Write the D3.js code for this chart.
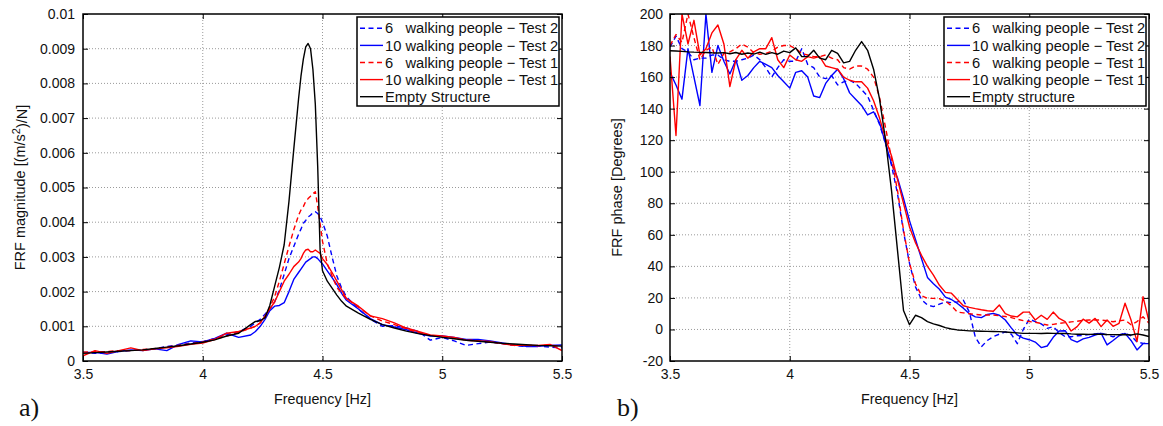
<!DOCTYPE html>
<html><head><meta charset="utf-8">
<script src="https://cdn.jsdelivr.net/npm/d3@7"></script>
<style>
body{margin:0;background:#fff}
svg{display:block}
text{font-family:"Liberation Sans",Arial,Helvetica,sans-serif;fill:#111}
</style>
</head><body>
<script>
// ---------------- DATA ----------------
const freqTicks = [3.5, 4, 4.5, 5, 5.5];
const freqTickLabels = ["3.5", "4", "4.5", "5", "5.5"];
const magTicks = [0, 0.001, 0.002, 0.003, 0.004, 0.005, 0.006, 0.007, 0.008, 0.009, 0.01];
const magTickLabels = ["0","0.001","0.002","0.003","0.004","0.005","0.006","0.007","0.008","0.009","0.01"];
const phaseTicks = [-20, 0, 20, 40, 60, 80, 100, 120, 140, 160, 180, 200];
const phaseTickLabels = ["-20","0","20","40","60","80","100","120","140","160","180","200"];

const legendMag = ["6   walking people \u2212 Test 2","10 walking people \u2212 Test 2","6   walking people \u2212 Test 1","10 walking people \u2212 Test 1","Empty Structure"];
const legendPhase = ["6   walking people \u2212 Test 2","10 walking people \u2212 Test 2","6   walking people \u2212 Test 1","10 walking people \u2212 Test 1","Empty structure"];

// Magnitude, values in units of 1e-3 (m/s^2)/N
const MAG_UNIT = 1e-3;
const freqMag = [3.5,3.55,3.6,3.65,3.7,3.75,3.8,3.85,3.9,3.95,4.0,4.05,4.1,4.15,4.2,
  4.22,4.24,4.26,4.28,4.3,4.32,4.34,4.36,4.38,4.4,
  4.41,4.42,4.43,4.44,4.45,4.46,4.47,4.48,4.49,4.5,
  4.52,4.54,4.56,4.58,4.6,
  4.65,4.7,4.75,4.8,4.85,4.9,4.95,5.0,5.05,5.1,5.15,5.2,5.25,5.3,5.35,5.4,5.45,5.5];
const mag6Test2 = [0.25,0.22,0.25,0.27,0.30,0.32,0.35,0.42,0.46,0.52,0.56,0.65,0.75,0.85,1.0,
  1.1,1.2,1.35,1.5,1.7,2.05,2.5,2.95,3.3,3.65,
  3.8,3.97,4.05,4.15,4.2,4.28,4.3,4.25,4.16,4.0,
  3.6,3.0,2.45,2.1,1.85,
  1.5,1.2,1.0,1.02,0.95,0.85,0.6,0.68,0.58,0.45,0.5,0.55,0.5,0.45,0.42,0.43,0.4,0.38];
const mag10Test2 = [0.25,0.25,0.2,0.28,0.32,0.3,0.35,0.3,0.48,0.58,0.55,0.65,0.8,0.68,0.75,
  0.85,1.0,1.2,1.45,1.58,1.6,1.68,2.0,2.35,2.55,
  2.65,2.75,2.85,2.9,2.95,3.0,3.0,2.95,2.87,2.8,
  2.6,2.4,2.2,1.95,1.75,
  1.5,1.22,1.05,0.98,0.9,0.8,0.72,0.72,0.68,0.62,0.62,0.58,0.52,0.46,0.42,0.42,0.45,0.46];
const mag6Test1 = [0.25,0.27,0.27,0.3,0.3,0.33,0.36,0.4,0.45,0.5,0.55,0.63,0.72,0.82,0.95,
  1.0,1.1,1.25,1.55,1.85,2.3,2.8,3.3,3.78,4.2,
  4.35,4.45,4.6,4.68,4.75,4.82,4.88,4.45,3.95,3.45,
  2.8,2.45,2.12,1.95,1.8,
  1.55,1.3,1.15,1.05,0.93,0.82,0.74,0.7,0.66,0.6,0.58,0.55,0.5,0.46,0.45,0.44,0.46,0.42];
const mag10Test1 = [0.15,0.3,0.22,0.3,0.38,0.3,0.35,0.38,0.42,0.48,0.52,0.62,0.8,0.85,0.95,
  1.0,1.1,1.3,1.5,1.7,2.0,2.3,2.5,2.72,2.85,
  2.95,3.1,3.2,3.22,3.15,3.15,3.2,3.15,3.1,2.95,
  2.78,2.55,2.3,2.05,1.8,
  1.58,1.3,1.22,1.1,0.95,0.85,0.75,0.72,0.68,0.6,0.58,0.56,0.5,0.45,0.45,0.45,0.48,0.3];
const magEmpty = [0.22,0.24,0.26,0.28,0.30,0.32,0.36,0.40,0.44,0.49,0.54,0.61,0.72,0.80,1.05,
  1.14,1.16,1.25,1.6,2.15,2.7,3.35,4.6,6.1,7.55,
  8.2,8.7,9.05,9.15,9.0,8.4,7.4,5.6,3.2,2.6,
  2.3,2.1,1.9,1.72,1.58,
  1.38,1.2,1.05,0.95,0.86,0.79,0.73,0.68,0.64,0.6,0.57,0.54,0.51,0.49,0.47,0.45,0.44,0.43];

// Phase, degrees
const freqPhase = [3.5,3.525,3.55,3.575,3.6,3.625,3.65,3.675,3.7,3.725,
  3.75,3.775,3.8,3.825,3.85,3.875,3.9,3.925,3.95,3.975,
  4.0,4.025,4.05,4.075,4.1,4.125,4.15,4.175,4.2,4.225,
  4.25,4.275,4.3,4.325,4.35,4.375,4.4,4.425,4.45,4.475,
  4.5,4.525,4.55,4.575,4.6,4.625,4.65,4.675,4.7,4.725,
  4.75,4.775,4.8,4.825,4.85,4.875,4.9,4.925,4.95,4.975,
  5.0,5.025,5.05,5.075,5.1,5.125,5.15,5.175,5.2,5.225,
  5.25,5.275,5.3,5.325,5.35,5.375,5.4,5.425,5.45,5.475,5.5];
const phase6Test2 = [179,186,178,176,171,172,172,174,174,171,
  170,170,171,172,174,171,166,160,166,171,
  170,170,178,168,166,160,159,161,155,157,
  158,156,152,148,139,130,118,104,86,62,
  42,27,19,15.5,14.5,16,17.5,17,17.5,18.5,
  11,-5,-11,-7,-4.5,-3,-1.5,-3,-9,0,
  6.5,5,3.5,0.7,1.8,-2,-4.6,-4.6,-4,-3.8,
  -3.3,-2.8,-2.4,-3.5,-4.6,-3.5,-2.4,-4,-8,-8.8,-8.4];
const phase10Test2 = [163,155,146,178,160,142,200,163,180,170,
  162,171,158,161,166,170,168,166,161,157,
  153,163,164,160,148,147,156,161,165,159,
  150,146,142,136,138,131,118,105,96,83,
  69,57,45,33,29,25.5,20.5,19,16.5,13.5,
  10,8,7.5,9.5,10.2,9,6,1,-3.5,-5.5,
  -6.5,-8,-11.5,-10.5,-5,-1,-0.8,-6.5,-8,-6,
  -5,-3.5,-2.4,-9.8,-7,-4,-2.5,-7,-13,-9,-9];
const phase6Test1 = [180,187,182,200,185,171,177,179,168,175,
  176,178,181,179,175.5,174.5,175,176.5,179,180,
  180,178,175,174,173,173,174,172,171,166,
  165,167,167,165,160,147,128,108,88,63,
  42,29,21.5,19.7,19.7,19.5,18,15,11,10.5,
  10,9.5,9.2,9.2,9.2,8.7,8.2,7.5,6.5,5.6,
  5,4.6,3.8,2.8,3.2,3.9,4.3,4.8,5.2,5.8,
  6,6,6,5.5,4.9,5.5,6,3,5,8,4];
const phase10Test1 = [173,123,200,181,196,174,178,188,193,181,
  154,171,177,172,176,178,178,185,171,166,
  174,171,170,173,172,173,167,166,165,160,
  158,157,157,153,145,134,121,110,95,80,
  65,55,47,40,34.5,28,23.5,23,19,15,
  14,13.2,12.5,11.9,11.5,15.5,10,8.5,8,11,
  11,6,9,6.4,11,7,5,-1,1.8,6.5,
  4,7,1.8,6,2,3.9,16.6,6,-7.7,20.8,5];
const phaseEmpty = [176.7,176.5,176.3,176,175.8,175.7,175.6,175.4,175.3,175.5,
  174.8,175.6,174.5,175.3,174.6,175.8,174.4,175.5,174.5,176.5,
  175.5,178.5,173,173,177,172,171,177,175,169,
  170,177,182.5,177,165,146,120,88,50,12,
  3,9,7.5,5,3.5,2.5,1.2,0.3,-0.3,-0.6,
  -0.9,-1,-1.1,-1.2,-1.3,-1.4,-1.6,-1.9,-2.2,-2.5,
  -2.5,-2.5,-2.6,-2.4,-2.5,-2.6,-2.5,-2.8,-3,-3,
  -3.1,-3,-3,-3.2,-3.3,-3.4,-3.2,-3.5,-2.8,-3.5,-4.5];

// ---------------- STYLES / LAYOUT ----------------
const seriesStyle = [
  {color:"#0000ff", dash:"5,3.5"},
  {color:"#0000ff", dash:null},
  {color:"#ff0000", dash:"5,3.5"},
  {color:"#ff0000", dash:null},
  {color:"#000000", dash:null}
];
const W = 1163, H = 426;
const svg = d3.select("body").append("svg").attr("width", W).attr("height", H);

function drawPanel(cfg) {
  const x = d3.scaleLinear().domain([3.5, 5.5]).range([cfg.left, cfg.right]);
  const y = d3.scaleLinear().domain(cfg.yDomain).range([cfg.bottom, cfg.top]);
  const g = svg.append("g");

  // grid
  const grid = g.append("g").attr("stroke", "#9a9a9a").attr("stroke-width", 1).attr("stroke-dasharray", "1,2");
  grid.selectAll("line.gx").data(freqTicks.slice(1, -1)).join("line").attr("class","gx")
    .attr("x1", d => x(d)).attr("x2", d => x(d)).attr("y1", cfg.top).attr("y2", cfg.bottom);
  grid.selectAll("line.gy").data(cfg.yTicks.slice(1, -1)).join("line").attr("class","gy")
    .attr("y1", d => y(d)).attr("y2", d => y(d)).attr("x1", cfg.left).attr("x2", cfg.right);

  // clip
  svg.append("clipPath").attr("id", cfg.id + "clip").append("rect")
    .attr("x", cfg.left).attr("y", cfg.top).attr("width", cfg.right - cfg.left).attr("height", cfg.bottom - cfg.top);

  const lines = g.append("g").attr("clip-path", `url(#${cfg.id}clip)`);
  cfg.series.forEach((vals, si) => {
    const st = seriesStyle[si];
    const line = d3.line().x((d, i) => x(cfg.freq[i])).y(d => y(d * cfg.unit));
    lines.append("path").datum(vals).attr("d", line).attr("fill", "none")
      .attr("stroke", st.color).attr("stroke-width", 1.4)
      .attr("stroke-linejoin", "round")
      .attr("stroke-dasharray", st.dash);
  });

  // axes
  const styleAxis = s => {
    s.select(".domain").remove();
    s.selectAll(".tick line").attr("stroke", "#000").attr("stroke-width", 1);
    s.selectAll("text").attr("font-size", 14).attr("fill", "#111")
      .attr("font-family", '"Liberation Sans",Arial,sans-serif');
    s.attr("font-size", null).attr("font-family", null);
  };
  g.append("g").attr("transform", `translate(0,${cfg.bottom})`)
    .call(d3.axisBottom(x).tickValues(freqTicks).tickFormat((d, i) => freqTickLabels[i]).tickSize(-5).tickPadding(8))
    .call(styleAxis);
  g.append("g").attr("transform", `translate(0,${cfg.top})`)
    .call(d3.axisTop(x).tickValues(freqTicks).tickFormat("").tickSize(-5)).call(styleAxis);
  g.append("g").attr("transform", `translate(${cfg.left},0)`)
    .call(d3.axisLeft(y).tickValues(cfg.yTicks).tickFormat((d, i) => cfg.yTickLabels[i]).tickSize(-5).tickPadding(cfg.yPad))
    .call(styleAxis);
  g.append("g").attr("transform", `translate(${cfg.right},0)`)
    .call(d3.axisRight(y).tickValues(cfg.yTicks).tickFormat("").tickSize(-5)).call(styleAxis);

  // frame
  g.append("rect").attr("x", cfg.left).attr("y", cfg.top)
    .attr("width", cfg.right - cfg.left).attr("height", cfg.bottom - cfg.top)
    .attr("fill", "none").attr("stroke", "#000").attr("stroke-width", 1.5);

  // x label
  g.append("text").attr("x", (cfg.left + cfg.right) / 2).attr("y", 404)
    .attr("text-anchor", "middle").attr("font-size", 14.3).text("Frequency [Hz]");

  // y label
  const yl = g.append("text").attr("transform", `translate(${cfg.yLabelX},${(cfg.top + cfg.bottom) / 2}) rotate(-90)`)
    .attr("text-anchor", "middle").attr("font-size", 14.5);
  cfg.yLabel(yl);

  // panel letter
  g.append("text").attr("x", cfg.letterX).attr("y", 416)
    .style("font-family", '"Liberation Serif","Times New Roman",serif')
    .attr("font-size", 26).text(cfg.letter);

  // legend
  const lw = 202, lh = 89;
  const lx = cfg.right - 3 - lw, ly = cfg.top + 3;
  const lg = g.append("g");
  lg.append("rect").attr("x", lx).attr("y", ly).attr("width", lw).attr("height", lh)
    .attr("fill", "#fff").attr("stroke", "#000").attr("stroke-width", 1.5);
  cfg.legend.forEach((label, i) => {
    const st = seriesStyle[i];
    const yy = ly + 11.3 + i * 17.1;
    lg.append("line").attr("x1", lx + 3).attr("x2", lx + 26).attr("y1", yy).attr("y2", yy)
      .attr("stroke", st.color).attr("stroke-width", 1.4).attr("stroke-dasharray", st.dash);
    lg.append("text").attr("x", lx + 28).attr("y", yy).attr("dy", "0.35em")
      .attr("font-size", 14.7).attr("xml:space", "preserve").style("white-space", "pre").text(label);
  });
}

drawPanel({
  id: "mag", left: 83, right: 562, top: 14, bottom: 361,
  yDomain: [0, 0.01], yTicks: magTicks, yTickLabels: magTickLabels, yPad: 8,
  freq: freqMag, unit: MAG_UNIT,
  series: [mag6Test2, mag10Test2, mag6Test1, mag10Test1, magEmpty],
  legend: legendMag, letter: "a)", letterX: 19, yLabelX: 25,
  yLabel: t => {
    t.append("tspan").text("FRF magnitude [(m/s");
    t.append("tspan").attr("dy", "-0.5em").attr("font-size", 11).text("2");
    t.append("tspan").attr("dy", "0.5em").text(")/N]");
  }
});

drawPanel({
  id: "pha", left: 670, right: 1149, top: 14, bottom: 361,
  yDomain: [-20, 200], yTicks: phaseTicks, yTickLabels: phaseTickLabels, yPad: 7,
  freq: freqPhase, unit: 1,
  series: [phase6Test2, phase10Test2, phase6Test1, phase10Test1, phaseEmpty],
  legend: legendPhase, letter: "b)", letterX: 617, yLabelX: 622,
  yLabel: t => t.text("FRF phase [Degrees]")
});
</script>
</body></html>
